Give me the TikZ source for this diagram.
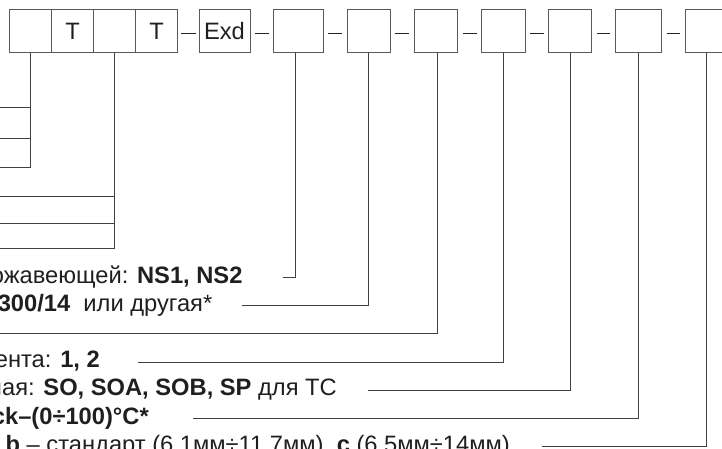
\documentclass[tikz,border=0pt]{standalone}
\usepackage{fontspec}
\setmainfont{Liberation Sans}
\usetikzlibrary{calc}
\begin{document}
\begin{tikzpicture}[x=1pt,y=-1pt,
  boxn/.style={draw=black!65, line width=0.9pt, inner sep=0pt, outer sep=0pt, minimum height=43.4pt, text=black!88, font=\fontsize{23.7}{28}\selectfont},
  conn/.style={draw=black!75, line width=0.9pt},
  dashl/.style={draw=black!85, line width=1.3pt, shorten <=4.8pt, shorten >=5.2pt},
  lbl/.style={anchor=base east, inner sep=0pt, text=black!88, font=\fontsize{23.7}{28}\selectfont}]
\useasboundingbox (0,0) rectangle (722,448);
\clip (0,0) rectangle (722,448);
% boxes
\node[boxn, minimum width=42.4pt] (b1) at (30.5,31) {};
\node[boxn, minimum width=42pt] (b2) at (72.7,31) {T};
\node[boxn, minimum width=42pt] (b3) at (114.7,31) {};
\node[boxn, minimum width=42pt] (b4) at (156.7,31) {T};
\node[boxn, minimum width=51pt] (b5) at (224.5,31) {Exd};
\node[boxn, minimum width=49.6pt] (b6) at (298.5,31) {};
\node[boxn, minimum width=42.7pt] (b7) at (368.65,31) {};
\node[boxn, minimum width=43.7pt] (b8) at (435.85,31) {};
\node[boxn, minimum width=43.3pt] (b9) at (503.35,31) {};
\node[boxn, minimum width=43pt] (b10) at (570.2,31) {};
\node[boxn, minimum width=46.4pt] (b11) at (638.5,31) {};
\node[boxn, minimum width=42.7pt] (b12) at (706.65,31) {};
% dashes
\draw[dashl, shorten <=3.3pt, shorten >=3pt] ([yshift=-2.3pt]b4.east) -- ([yshift=-2.3pt]b5.west);
\foreach \a/\b in {b5/b6,b6/b7,b7/b8,b8/b9,b9/b10,b10/b11,b11/b12}
  \draw[dashl] ([yshift=-2.3pt]\a.east) -- ([yshift=-2.3pt]\b.west);
% free ends
\coordinate (a1) at (-2,107.7);
\coordinate (a2) at (-2,138.3);
\coordinate (a3) at (-2,167.3);
\coordinate (a4) at (-2,196.7);
\coordinate (a5) at (-2,223.3);
\coordinate (a6) at (-2,248.3);
\coordinate (c1) at (282.7,277.3);
\coordinate (c2) at (241.7,305.7);
\coordinate (c3) at (-2,333.5);
\coordinate (c4) at (138.3,362.3);
\coordinate (c5) at (368.3,390.3);
\coordinate (c6) at (193.3,418.3);
\coordinate (c7) at (541.7,446.7);
% connectors
\draw[conn] (b1.south) |- (a3);
\draw[conn] (b1.south |- a1) -- (a1);
\draw[conn] (b1.south |- a2) -- (a2);
\draw[conn] (b3.south) |- (a6);
\draw[conn] (b3.south |- a4) -- (a4);
\draw[conn] (b3.south |- a5) -- (a5);
\draw[conn] ([xshift=-3.5pt]b6.south) |- (c1);
\draw[conn] (b7.south) |- (c2);
\draw[conn] ([xshift=1.2pt]b8.south) |- (c3);
\draw[conn] (b9.south) |- (c4);
\draw[conn] (b10.south) |- (c5);
\draw[conn] (b11.south) |- (c6);
\draw[conn] (b12.south) |- (c7);
% labels
\node[lbl] (t1) at (242.7,283.5) {ожавеющей: \textbf{NS1, NS2}};
\node[lbl] (t2) at (212.5,311.5) {\textbf{300/14}\ \ или другая*};
\node[lbl] (t4) at (100,367.5) {ента: \textbf{1, 2}};
\node[lbl] (t5) at (337,395.5) {ная: \textbf{SO, SOA, SOB, SP} для ТС};
\node[lbl] (t6) at (149,424) {\textbf{ck–(0÷100)°C*}};
\node[lbl] (t7) at (510,452) {\textbf{b} – стандарт (6,1мм÷11,7мм), \textbf{c} (6,5мм÷14мм)};
\end{tikzpicture}
\end{document}
